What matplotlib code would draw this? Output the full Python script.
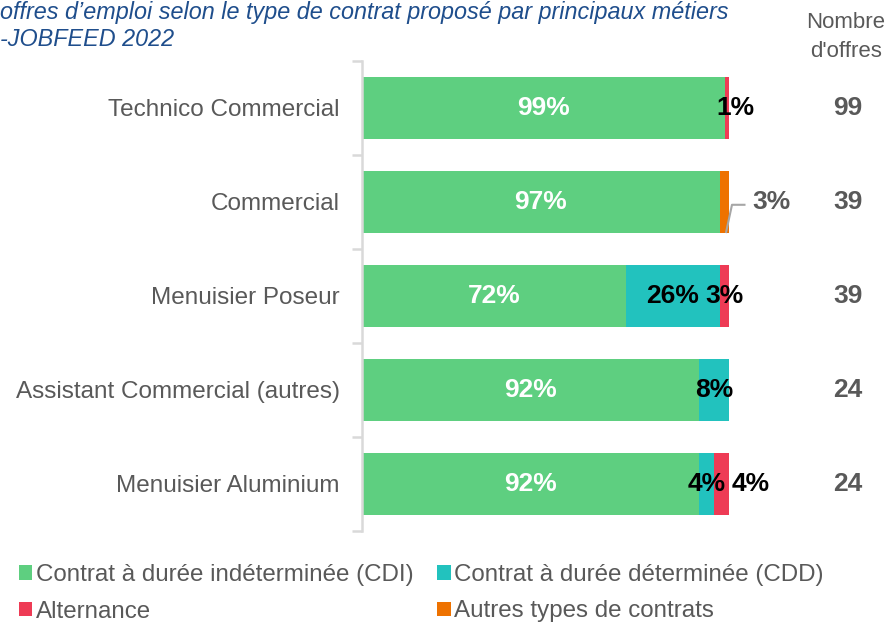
import matplotlib.pyplot as plt
from matplotlib.patches import Patch

plt.rcParams['font.family'] = ['Liberation Sans', 'DejaVu Sans']

# data (top to bottom)
metiers = ['Technico Commercial', 'Commercial', 'Menuisier Poseur',
           'Assistant Commercial (autres)', 'Menuisier Aluminium']
cdi = [99.0, 97.4, 71.8, 91.7, 91.7]
cdd = [0.0, 0.0, 25.6, 8.3, 4.2]
alternance = [1.0, 0.0, 2.6, 0.0, 4.2]
autres = [0.0, 2.6, 0.0, 0.0, 0.0]
nb_offres = [99, 39, 39, 24, 24]

series_names = ['Contrat à durée indéterminée (CDI)', 'Contrat à durée déterminée (CDD)',
                'Alternance', 'Autres types de contrats']
colors = ['#5ECF80', '#22C2BE', '#EE3B55', '#EE7200']
GRAY = '#595959'

fig = plt.figure(figsize=(8.94, 6.26), dpi=100)
ax = fig.add_axes([0.405, 0.1518, 0.4105, 0.7508])

ypos = list(range(len(metiers)))
h = 0.66
left = [0.0] * len(metiers)
for vals, col in zip([cdi, cdd, alternance, autres], colors):
    ax.barh(ypos, vals, left=left, height=h, color=col, edgecolor='none')
    left = [l + v for l, v in zip(left, vals)]

ax.set_xlim(0, 100)
ax.set_ylim(len(metiers) - 0.5, -0.5)
ax.set_yticks(ypos)
ax.set_yticklabels(metiers, fontsize=17.5, color=GRAY)
ax.tick_params(axis='y', length=0, pad=16)
ax.set_yticks([i - 0.5 for i in range(len(metiers) + 1)], minor=True)
ax.tick_params(axis='y', which='minor', length=7, width=1.8, color='#D9D9D9')
ax.set_xticks([])
for s in ['top', 'right', 'bottom']:
    ax.spines[s].set_visible(False)
ax.spines['left'].set_color('#D9D9D9')
ax.spines['left'].set_linewidth(1.8)

FS = 19
lab = dict(fontsize=FS, fontweight='bold', va='center', ha='center')
for i in ypos:
    ax.text(cdi[i] / 2, i, f'{cdi[i]:.0f}%', color='white', **lab)
    if cdd[i] > 0:
        ax.text(cdi[i] + cdd[i] / 2, i, f'{cdd[i]:.0f}%', color='black', **lab)
    ax.text(132.4, i, str(nb_offres[i]), color=GRAY, clip_on=False, **lab)

# alternance labels
ax.text(101.7, 0, f'{alternance[0]:.0f}%', color='black', clip_on=False, **lab)
ax.text(98.8, 2, f'{alternance[2]:.0f}%', color='black', clip_on=False, **lab)
ax.text(105.8, 4, f'{alternance[4]:.0f}%', color='black', clip_on=False, **lab)

# autres label with leader line
ax.plot([99.2, 100.8, 104.2], [1.32, 1.03, 1.03], color='#A6A6A6', lw=1.5, clip_on=False)
ax.text(106.3, 1, f'{autres[1]:.0f}%', color=GRAY, fontsize=FS, fontweight='bold',
        va='center', ha='left', clip_on=False)

fig.text(846 / 894, 1 - 37 / 626, "Nombre\nd'offres", color=GRAY, fontsize=16,
         ha='center', va='center', linespacing=1.45)

fig.text(0.0, 1 - 12 / 626, 'offres d’emploi selon le type de contrat proposé par principaux métiers',
         color='#1F4E8C', fontsize=16.8, style='italic', va='center', ha='left')
fig.text(0.0, 1 - 40 / 626, '-JOBFEED 2022', color='#1F4E8C', fontsize=16.8,
         style='italic', va='center', ha='left')

order = [0, 2, 1, 3]
handles = [Patch(facecolor=colors[k], edgecolor='none', label=series_names[k]) for k in order]
fig.legend(handles=handles, ncol=2, loc='upper left', bbox_to_anchor=(0.021, 1 - 564 / 626),
           frameon=False, fontsize=17.4, labelcolor=GRAY, handlelength=0.55, handleheight=0.55,
           handletextpad=0.15, columnspacing=1.0, borderpad=0, borderaxespad=0,
           labelspacing=0.6)

fig.savefig('out.png', dpi=100)
